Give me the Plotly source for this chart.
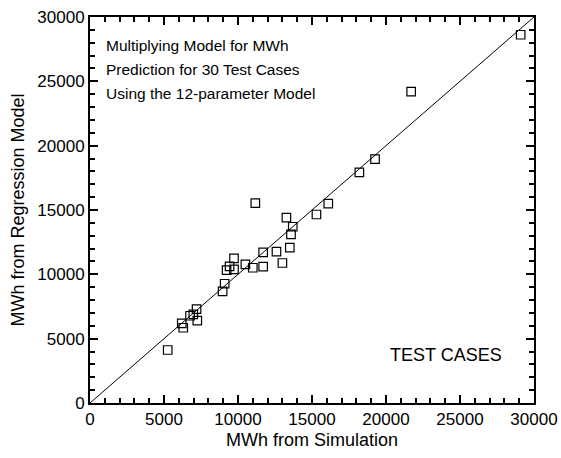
import plotly.graph_objects as go

# MWh from simulation (x) vs. MWh from regression model (y), 30 test cases
sim_mwh = [5250, 6200, 6300, 6760, 6980, 7200, 7250, 8960, 9100, 9230,
           9430, 9730, 9730, 10500, 11000, 11700, 11700, 12600, 13000, 13500,
           13270, 13700, 13580, 15300, 11170, 16100, 18200, 19260, 21700, 29100]
reg_mwh = [4120, 6190, 5850, 6780, 6890, 7300, 6400, 8680, 9270, 10330,
           10620, 10390, 11240, 10770, 10510, 10600, 11700, 11760, 10880, 12070,
           14400, 13700, 13100, 14650, 15540, 15500, 17930, 18960, 24200, 28620]
line_xy = [0, 30000]
tick_vals = [0, 5000, 10000, 15000, 20000, 25000, 30000]
tick_text = ["0", "5000", "10000", "15000", "20000", "25000", "30000"]
title_lines = ["Multiplying Model for MWh",
               "Prediction for 30 Test Cases",
               "Using the 12-parameter Model"]

FONT = "Liberation Sans, Arial, sans-serif"

fig = go.Figure()
fig.add_trace(go.Scatter(x=line_xy, y=line_xy, mode="lines",
                         line=dict(color="black", width=1), hoverinfo="skip",
                         showlegend=False))
fig.add_trace(go.Scatter(x=sim_mwh, y=reg_mwh, mode="markers",
                         marker=dict(symbol="square-open", size=8.5,
                                     color="black", line=dict(width=1.2, color="black")),
                         showlegend=False))

axis_common = dict(
    range=[0, 30000], tickmode="array", tickvals=tick_vals, ticktext=tick_text,
    ticks="inside", ticklen=8, tickwidth=1.5, tickcolor="black",
    showline=True, linecolor="black", linewidth=2, mirror="ticks",
    showgrid=False, zeroline=False, automargin=False,
    tickfont=dict(family=FONT, size=17, color="black"),
    minor=dict(ticks="inside", ticklen=5, tickwidth=1.5, tickcolor="black",
               dtick=1000, tick0=0, showgrid=False),
)

fig.update_layout(
    width=561, height=458,
    margin=dict(l=90, r=27, t=17, b=55),
    paper_bgcolor="white", plot_bgcolor="white",
    font=dict(family=FONT, size=15, color="black"),
    xaxis=dict(**axis_common,
               title=dict(text="MWh from Simulation", standoff=5,
                          font=dict(family=FONT, size=18, color="black"))),
    yaxis=dict(**axis_common,
               title=dict(text="MWh from Regression Model", standoff=8,
                          font=dict(family=FONT, size=18, color="black"))),
)

for i, t in enumerate(title_lines):
    fig.add_annotation(text=t, xref="paper", yref="paper",
                       x=(104 - 90) / 444, y=(403 - (45 + 24 * i)) / 386,
                       xanchor="left", yanchor="middle", showarrow=False,
                       font=dict(family=FONT, size=15.5, color="black"))

fig.add_annotation(text="TEST CASES", xref="paper", yref="paper",
                   x=(388 - 90) / 444, y=(403 - 355) / 386,
                   xanchor="left", yanchor="middle", showarrow=False,
                   font=dict(family=FONT, size=18, color="black"))

fig.write_html("out.html", config={"displayModeBar": False},
               post_script="document.body.style.margin='0';")
